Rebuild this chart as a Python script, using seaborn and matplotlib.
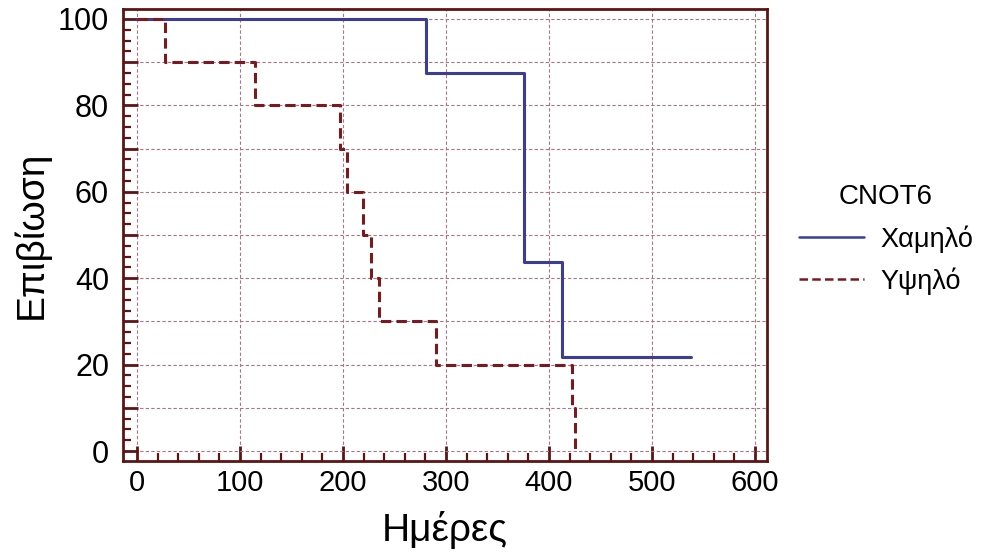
import matplotlib
matplotlib.use("Agg")
import matplotlib.pyplot as plt
import matplotlib.ticker as mtick
import pandas as pd
import seaborn as sns

# Kaplan-Meier steps
low_days = [0, 281, 376, 413, 538]
low_surv = [100, 87.5, 43.75, 21.875, 21.875]
high_days = [0, 27, 115, 197, 204, 219, 227, 235, 290, 422, 425]
high_surv = [100, 90, 80, 70, 60, 50, 40, 30, 20, 10, 0]
groups = ["Χαμηλό", "Υψηλό"]

df = pd.concat([
    pd.DataFrame({"days": low_days, "surv": low_surv, "CNOT6": groups[0]}),
    pd.DataFrame({"days": high_days, "surv": high_surv, "CNOT6": groups[1]}),
], ignore_index=True)

sns.set_style("white")
plt.rcParams["font.family"] = ["Liberation Sans", "DejaVu Sans"]
plt.rcParams["text.color"] = "black"
plt.rcParams["axes.labelcolor"] = "black"
plt.rcParams["xtick.color"] = "black"
plt.rcParams["ytick.color"] = "black"

frame_col = "#5e1414"
grid_col = "#ad7488"

fig = plt.figure(figsize=(9.96, 5.55), dpi=100)
ax = fig.add_axes([0.1235, 0.1694, 0.6465, 0.8144])

sns.lineplot(data=df, x="days", y="surv", hue="CNOT6", style="CNOT6",
             palette={groups[0]: "#3b3d96", groups[1]: "#7a1a1f"},
             dashes={groups[0]: "", groups[1]: (3.4, 1.7)},
             drawstyle="steps-post", estimator=None, sort=False,
             linewidth=2.2, ax=ax)

ax.set_xlim(-13.5, 611.5)
ax.set_ylim(-2.3, 102.3)

ax.xaxis.set_major_locator(mtick.MultipleLocator(100))
ax.xaxis.set_minor_locator(mtick.MultipleLocator(20))
ax.yaxis.set_major_locator(mtick.MultipleLocator(10))
ax.yaxis.set_minor_locator(mtick.MultipleLocator(2.5))
ax.yaxis.set_major_formatter(mtick.FuncFormatter(
    lambda v, _: f"{v:.0f}" if round(v) % 20 == 0 else ""))

ax.grid(True, which="major", linestyle=(0, (3, 2)), color=grid_col, linewidth=0.8)
ax.tick_params(which="major", direction="in", length=11, width=2,
               color=frame_col, labelcolor="black")
ax.tick_params(axis="y", which="major", pad=10, labelsize=22)
ax.tick_params(axis="x", which="major", pad=6, labelsize=21)
ax.tick_params(which="minor", direction="in", length=6, width=1.6, color=frame_col)
ax.tick_params(axis="y", which="both", left=True)
ax.tick_params(axis="x", which="both", bottom=True)

for s in ax.spines.values():
    s.set_color(frame_col)
    s.set_linewidth(2)

ax.set_xlabel("Ημέρες", fontsize=28, labelpad=10)
ax.set_ylabel("Επιβίωση", fontsize=28, labelpad=6)

leg = ax.legend(title="CNOT6", loc="center left", bbox_to_anchor=(1.012, 0.49),
                frameon=False, fontsize=19.5, title_fontsize=20,
                handlelength=2.4, labelspacing=0.55, handletextpad=0.6)
for line in leg.get_lines():
    line.set_linewidth(1.8)

fig.savefig("out.png", dpi=100)
